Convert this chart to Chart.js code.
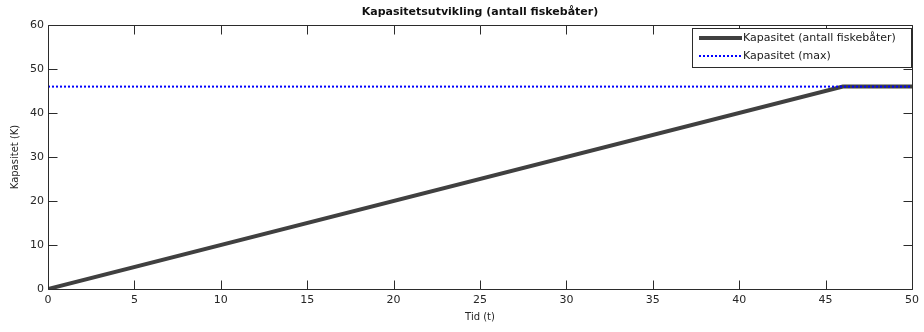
<!DOCTYPE html>
<html>
<head>
<meta charset="utf-8">
<script src="https://cdn.jsdelivr.net/npm/chart.js@4/dist/chart.umd.min.js"></script>
<style>
html,body{margin:0;padding:0;background:#fff;}
#wrap{width:924px;height:332px;}
</style>
</head>
<body>
<div id="wrap"><canvas id="c" width="924" height="332"></canvas></div>
<script>
const chartTitle = "Kapasitetsutvikling (antall fiskebåter)";
const xTitle = "Tid (t)";
const yTitle = "Kapasitet (K)";
const tid = [0, 46, 50];
const kapasitet = [0, 46, 46];
const maxTid = [0, 50];
const kapasitetMax = [46, 46];
const xTicks = [0, 5, 10, 15, 20, 25, 30, 35, 40, 45, 50];
const yTicks = [0, 10, 20, 30, 40, 50, 60];
const seriesLabels = ["Kapasitet (antall fiskebåter)", "Kapasitet (max)"];

const FONT = "'DejaVu Sans', 'Liberation Sans', Arial, sans-serif";
const AXIS = '#2b2b2b';

const boxTicks = {
  id: 'boxTicks',
  afterDatasetsDraw(chart) {
    const ctx = chart.ctx, a = chart.chartArea;
    const xs = chart.scales.x, ys = chart.scales.y;
    const L = 9;
    ctx.save();
    ctx.strokeStyle = AXIS;
    ctx.lineWidth = 1;
    ctx.beginPath();
    const l = Math.round(a.left) + 0.5, r = Math.round(a.right) + 0.5;
    const t = Math.round(a.top) + 0.5, b = Math.round(a.bottom) + 0.5;
    ctx.rect(l, t, r - l, b - t);
    xTicks.forEach(v => {
      const px = Math.round(xs.getPixelForValue(v)) + 0.5;
      ctx.moveTo(px, b); ctx.lineTo(px, b - L);
      ctx.moveTo(px, t); ctx.lineTo(px, t + L);
    });
    yTicks.forEach(v => {
      const py = Math.round(ys.getPixelForValue(v)) + 0.5;
      ctx.moveTo(l, py); ctx.lineTo(l + L, py);
      ctx.moveTo(r, py); ctx.lineTo(r - L, py);
    });
    ctx.stroke();
    ctx.restore();
  },
  afterDraw(chart) {
    const ctx = chart.ctx, a = chart.chartArea;
    ctx.save();
    // title centred over the plot area
    ctx.font = "bold 11px " + FONT;
    ctx.fillStyle = '#111';
    ctx.textAlign = 'center';
    ctx.textBaseline = 'middle';
    ctx.fillText(chartTitle, (a.left + a.right) / 2, 12.5);
    ctx.textAlign = 'left';
    // legend
    const x0 = 692.5, y0 = 28.5, x1 = Math.round(a.right) - 0.5, y1 = 67.5;
    ctx.fillStyle = '#fff';
    ctx.fillRect(x0, y0, x1 - x0, y1 - y0);
    ctx.strokeStyle = AXIS;
    ctx.lineWidth = 1;
    ctx.strokeRect(x0, y0, x1 - x0, y1 - y0);
    ctx.font = "11px " + FONT;
    ctx.fillStyle = '#1a1a1a';
    const rows = [38, 56];
    chart.data.datasets.forEach((ds, i) => {
      const y = rows[i];
      ctx.save();
      ctx.strokeStyle = ds.borderColor;
      ctx.lineWidth = ds.borderWidth;
      ctx.setLineDash(ds.borderDash || []);
      ctx.beginPath();
      ctx.moveTo(699, y); ctx.lineTo(742, y);
      ctx.stroke();
      ctx.restore();
      ctx.fillText(ds.label, 743, y);
    });
    ctx.restore();
  }
};

new Chart(document.getElementById('c'), {
  type: 'line',
  data: {
    datasets: [
      {
        label: seriesLabels[0],
        data: tid.map((t, i) => ({x: t, y: kapasitet[i]})),
        borderColor: '#404040',
        borderWidth: 4,
        pointRadius: 0,
        fill: false,
        tension: 0,
        order: 1
      },
      {
        label: seriesLabels[1],
        data: maxTid.map((t, i) => ({x: t, y: kapasitetMax[i]})),
        borderColor: '#0000ff',
        borderWidth: 2,
        borderDash: [2, 2],
        pointRadius: 0,
        fill: false,
        tension: 0,
        order: 0
      }
    ]
  },
  options: {
    responsive: false,
    animation: false,
    devicePixelRatio: 1,
    layout: { padding: { top: 25, right: 11, left: 0, bottom: 0 } },
    plugins: {
      legend: { display: false },
      tooltip: { enabled: false },
      title: { display: false }
    },
    scales: {
      x: {
        type: 'linear',
        min: 0, max: 50,
        afterFit(s) { s.height = 43; },
        afterBuildTicks(s) { s.ticks = xTicks.map(v => ({value: v})); },
        grid: { display: false, drawTicks: false },
        border: { display: false },
        ticks: { color: '#262626', font: { family: FONT, size: 11 }, padding: 5, maxRotation: 0, autoSkip: false },
        title: { display: true, text: xTitle, color: '#262626', font: { family: FONT, size: 10 }, padding: { top: 1, bottom: 9 } }
      },
      y: {
        type: 'linear',
        min: 0, max: 60,
        afterFit(s) { s.width = 48; },
        afterBuildTicks(s) { s.ticks = yTicks.map(v => ({value: v})); },
        grid: { display: false, drawTicks: false },
        border: { display: false },
        ticks: { color: '#262626', font: { family: FONT, size: 11 }, padding: 4, autoSkip: false },
        title: { display: true, text: yTitle, color: '#262626', font: { family: FONT, size: 10 }, padding: { top: 9, bottom: 0 } }
      }
    }
  },
  plugins: [boxTicks]
});
</script>
</body>
</html>
